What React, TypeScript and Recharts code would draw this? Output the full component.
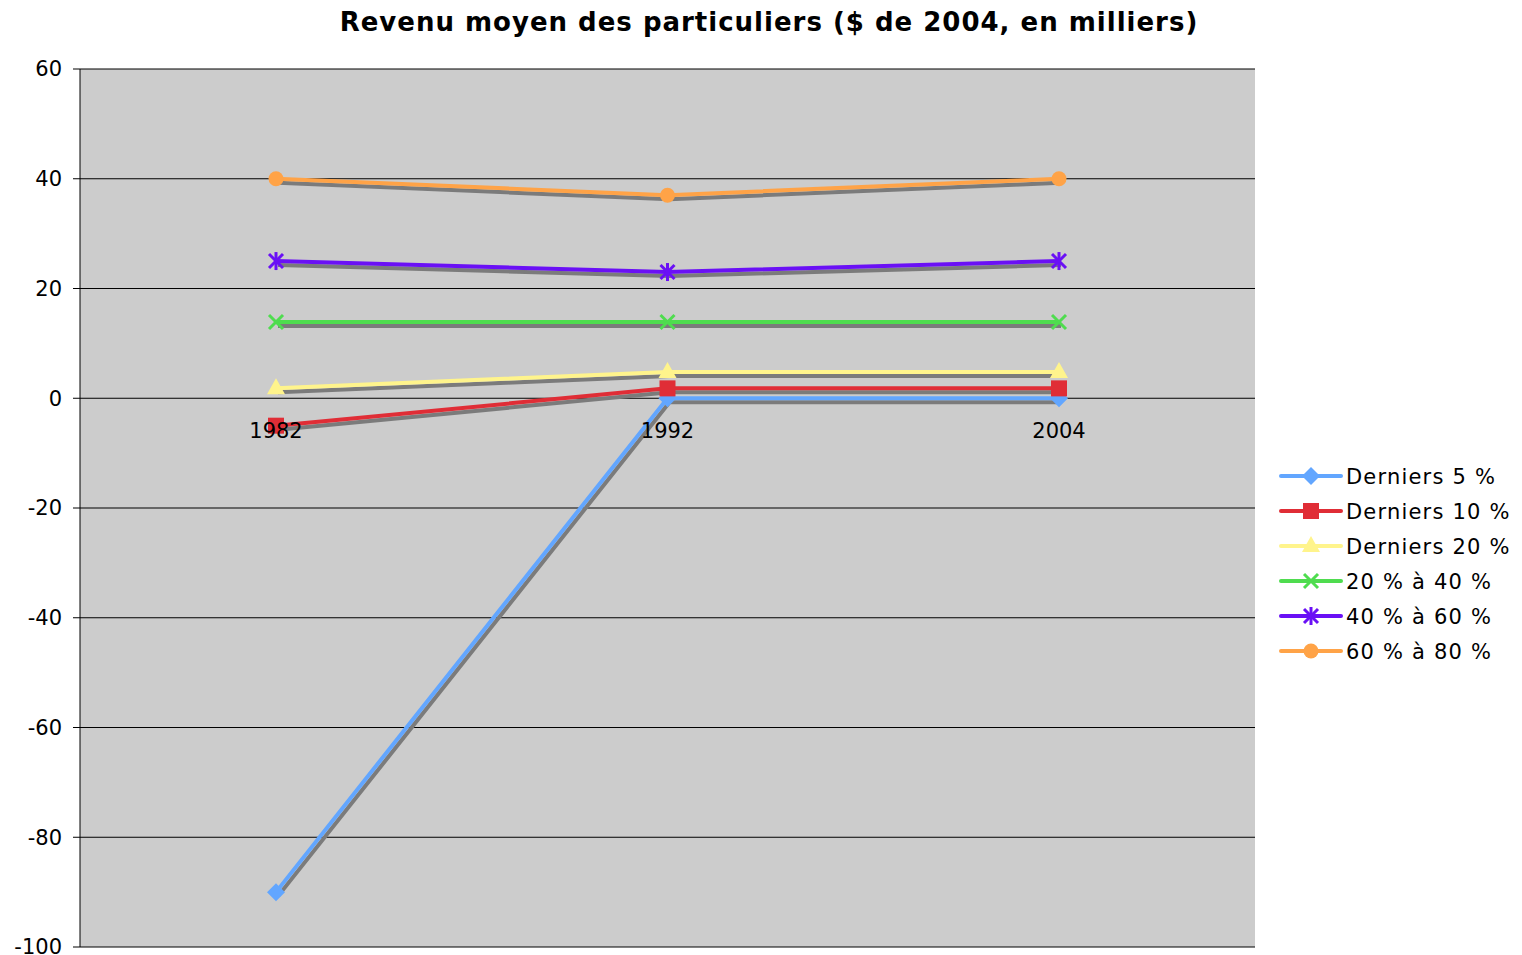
import { LineChart, Line, XAxis, YAxis, CartesianGrid, Legend, ReferenceDot } from "recharts";

const years = ["1982", "1992", "2004"];
const derniers5 = [-90, 0, 0];
const derniers10 = [-5, 1.8, 1.8];
const derniers20 = [1.8, 4.8, 4.8];
const p20to40 = [13.9, 13.9, 13.9];
const p40to60 = [25, 23, 25];
const p60to80 = [40, 37, 40];
const yTicks = [-100, -80, -60, -40, -20, 0, 20, 40, 60];

const series = [
  { key: "d5", name: "Derniers 5 %", color: "#62a6ff", shape: "diamond", values: derniers5 },
  { key: "d10", name: "Derniers 10 %", color: "#e02d36", shape: "square", values: derniers10 },
  { key: "d20", name: "Derniers 20 %", color: "#fff48c", shape: "triangle", values: derniers20 },
  { key: "q2", name: "20 % à 40 %", color: "#4fdc4f", shape: "cross", values: p20to40 },
  { key: "q3", name: "40 % à 60 %", color: "#6a10f5", shape: "star", values: p40to60 },
  { key: "q4", name: "60 % à 80 %", color: "#ffa347", shape: "circle", values: p60to80 },
];

const data = years.map((year, i) => {
  const row: Record<string, string | number> = { year };
  series.forEach((s) => (row[s.key] = s.values[i]));
  return row;
});

const FONT = "'DejaVu Sans', Verdana, sans-serif";

function Marker({ cx, cy, shape, color }: { cx: number; cy: number; shape: string; color: string }) {
  switch (shape) {
    case "diamond":
      return <path d={`M${cx},${cy - 9}L${cx + 9},${cy}L${cx},${cy + 9}L${cx - 9},${cy}Z`} fill={color} />;
    case "square":
      return <rect x={cx - 8} y={cy - 8} width={16} height={16} fill={color} />;
    case "triangle":
      return <path d={`M${cx},${cy - 10}L${cx + 9},${cy + 6}L${cx - 9},${cy + 6}Z`} fill={color} />;
    case "cross":
      return (
        <g stroke={color} strokeWidth={3}>
          <line x1={cx - 7} y1={cy - 7} x2={cx + 7} y2={cy + 7} />
          <line x1={cx - 7} y1={cy + 7} x2={cx + 7} y2={cy - 7} />
        </g>
      );
    case "star":
      return (
        <g stroke={color} strokeWidth={3}>
          <line x1={cx - 7} y1={cy - 7} x2={cx + 7} y2={cy + 7} />
          <line x1={cx - 7} y1={cy + 7} x2={cx + 7} y2={cy - 7} />
          <line x1={cx} y1={cy - 9} x2={cx} y2={cy + 9} />
        </g>
      );
    default:
      return <circle cx={cx} cy={cy} r={7.5} fill={color} />;
  }
}

// legend keeps the series order, not the payload's sorted order
function LegendContent() {
  return (
    <svg width={250} height={series.length * 35} style={{ display: "block" }}>
      {series.map((s, i) => {
        const y = 18 + i * 35;
        return (
          <g key={s.key}>
            <line x1={8} x2={68} y1={y} y2={y} stroke={s.color} strokeWidth={4} strokeLinecap="round" />
            <Marker cx={38} cy={y} shape={s.shape} color={s.color} />
            <text x={73} y={y} dy="0.36em" fontSize={21} letterSpacing={1.2} fontFamily={FONT} fill="#000">
              {s.name}
            </text>
          </g>
        );
      })}
    </svg>
  );
}

export default function App() {
  return (
    <div style={{ position: "relative", width: 1506, height: 947, fontFamily: FONT }}>
      <style>{`.shadowed { filter: drop-shadow(2px 4px 0px #7b7b7b); }`}</style>
      <div
        style={{
          position: "absolute",
          top: 1,
          left: 16,
          width: 1490,
          textAlign: "center",
          fontSize: 26,
          lineHeight: "26px",
          letterSpacing: 1,
          fontWeight: "bold",
          whiteSpace: "nowrap",
        }}
      >
        Revenu moyen des particuliers ($ de 2004, en milliers)
      </div>
      <LineChart width={1506} height={947} data={data} margin={{ top: 61, right: 259, bottom: 8, left: 12 }}>
        <CartesianGrid vertical={false} stroke="#000" fill="#cccccc" fillOpacity={1} />
        <XAxis dataKey="year" hide padding={{ left: 196, right: 196 }} />
        <YAxis
          width={60}
          domain={[-100, 60]}
          ticks={yTicks}
          interval={0}
          axisLine={{ stroke: "#000" }}
          tickLine={{ stroke: "#000" }}
          tickSize={7}
          tickMargin={11}
          tick={{ fill: "#000", fontSize: 21, fontFamily: FONT, dy: "0.25em" }}
        />
        {years.map((y) => (
          <ReferenceDot
            key={y}
            x={y}
            y={0}
            r={0}
            fill="none"
            stroke="none"
            label={{ value: y, position: "bottom", offset: 25, fill: "#000", fontSize: 21, fontFamily: FONT }}
          />
        ))}
        {series.map((s) => (
          <Line
            key={s.key}
            className="shadowed"
            dataKey={s.key}
            name={s.name}
            stroke={s.color}
            strokeWidth={4}
            isAnimationActive={false}
            dot={(p: any) => <Marker key={`${s.key}-${p.index}`} cx={p.cx} cy={p.cy} shape={s.shape} color={s.color} />}
            activeDot={false}
          />
        ))}
        <Legend
          layout="vertical"
          align="center"
          verticalAlign="middle"
          content={<LegendContent />}
          wrapperStyle={{ top: 450, left: 1265, width: 250 }}
        />
      </LineChart>
    </div>
  );
}
